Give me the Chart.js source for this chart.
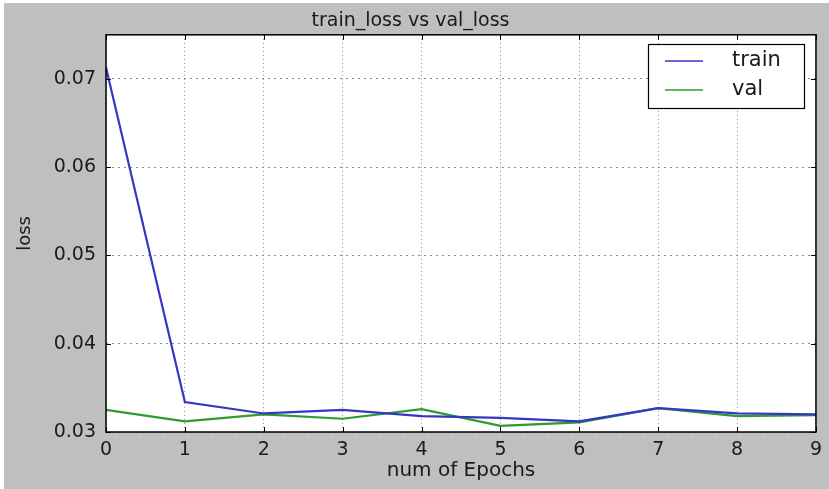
<!DOCTYPE html>
<html>
<head>
<meta charset="utf-8">
<script src="https://cdn.jsdelivr.net/npm/chart.js@4/dist/chart.umd.min.js"></script>
<style>
  html, body { margin: 0; padding: 0; background: #ffffff; }
  #wrap { position: absolute; left: 4px; top: 3px; width: 825px; height: 486px; }
</style>
</head>
<body>
<div id="wrap"><canvas id="c"></canvas></div>
<script>
const epochs = ['0', '1', '2', '3', '4', '5', '6', '7', '8', '9'];
const trainLoss = [0.0713, 0.0334, 0.0321, 0.0325, 0.0318, 0.0316, 0.0312, 0.0327, 0.0321, 0.0320];
const valLoss = [0.0325, 0.0312, 0.0320, 0.0315, 0.0326, 0.0307, 0.0311, 0.0327, 0.0318, 0.0319];
const yTickValues = [0.03, 0.04, 0.05, 0.06, 0.07];
const seriesNames = ['train', 'val'];
const seriesColors = ['#3636c4', '#2f9a2f'];

const FONT = "'DejaVu Sans', sans-serif";
const TEXT = '#1a1a1a';

const framePlugin = {
  id: 'frame',
  beforeDraw(chart) {
    const ctx = chart.ctx, a = chart.chartArea;
    ctx.save();
    ctx.fillStyle = '#bfbfbf';
    ctx.fillRect(0, 0, chart.width, chart.height);
    ctx.fillStyle = '#ffffff';
    ctx.fillRect(a.left, a.top, a.right - a.left, a.bottom - a.top);
    ctx.restore();
  },
  afterDraw(chart) {
    const ctx = chart.ctx, a = chart.chartArea;
    const xs = chart.scales.x, ys = chart.scales.y;
    ctx.save();
    // inward ticks
    ctx.strokeStyle = '#000000';
    ctx.lineWidth = 1;
    ctx.beginPath();
    xs.ticks.forEach((t, i) => {
      const px = Math.round(xs.getPixelForTick(i)) + 0.5;
      ctx.moveTo(px, a.bottom); ctx.lineTo(px, a.bottom - 5);
      ctx.moveTo(px, a.top); ctx.lineTo(px, a.top + 5);
    });
    ys.ticks.forEach(t => {
      const py = Math.round(ys.getPixelForValue(t.value)) + 0.5;
      ctx.moveTo(a.left, py); ctx.lineTo(a.left + 5, py);
      ctx.moveTo(a.right, py); ctx.lineTo(a.right - 5, py);
    });
    ctx.stroke();
    // border
    ctx.lineWidth = 1.5;
    ctx.strokeRect(a.left, a.top, a.right - a.left, a.bottom - a.top);
    // legend
    const lx = 644, ly = 41, lw = 156, lh = 64;
    ctx.fillStyle = '#ffffff';
    ctx.fillRect(lx, ly, lw, lh);
    ctx.lineWidth = 1.2;
    ctx.strokeStyle = '#000000';
    ctx.strokeRect(lx + 0.5, ly + 0.5, lw, lh);
    const rows = [58, 87];
    chart.data.datasets.forEach((ds, i) => {
      ctx.strokeStyle = ds.borderColor;
      ctx.lineWidth = 1.5;
      ctx.beginPath();
      ctx.moveTo(661, rows[i]);
      ctx.lineTo(699, rows[i]);
      ctx.stroke();
      ctx.fillStyle = TEXT;
      ctx.font = "21px " + FONT;
      ctx.textBaseline = 'middle';
      ctx.textAlign = 'left';
      ctx.fillText(ds.label, 728, rows[i]);
    });
    ctx.restore();
  }
};

new Chart(document.getElementById('c'), {
  type: 'line',
  data: {
    labels: epochs,
    datasets: [
      { label: seriesNames[0], data: trainLoss, borderColor: seriesColors[0], backgroundColor: seriesColors[0], borderWidth: 2.2, pointRadius: 0, tension: 0, fill: false },
      { label: seriesNames[1], data: valLoss, borderColor: seriesColors[1], backgroundColor: seriesColors[1], borderWidth: 2.2, pointRadius: 0, tension: 0, fill: false }
    ]
  },
  options: {
    responsive: true,
    maintainAspectRatio: false,
    animation: false,
    layout: { padding: { left: 0, right: 12, top: 0, bottom: 0 } },
    plugins: {
      legend: { display: false },
      tooltip: { enabled: false },
      title: {
        display: true,
        text: 'train_loss vs val_loss',
        color: TEXT,
        font: { family: FONT, size: 19, weight: 'normal' },
        padding: { top: 7, bottom: 2 }
      }
    },
    scales: {
      x: {
        type: 'category',
        offset: false,
        grid: { display: true, color: '#8a8a8a', lineWidth: 1, drawTicks: false, tickLength: 0 },
        border: { display: false, dash: [1, 3] },
        ticks: { color: TEXT, font: { family: FONT, size: 19 }, padding: 7, maxRotation: 0, autoSkip: false },
        title: { display: true, text: 'num of Epochs', color: TEXT, font: { family: FONT, size: 20 }, padding: { top: 0, bottom: 6 } },
        afterFit(scale) { scale.height = 57; }
      },
      y: {
        type: 'linear',
        min: 0.03,
        max: 0.075,
        grid: { display: true, color: '#8a8a8a', lineWidth: 1, drawTicks: false, tickLength: 0 },
        border: { display: false, dash: [2, 4] },
        afterBuildTicks(scale) { scale.ticks = yTickValues.map(v => ({ value: v })); },
        ticks: {
          color: TEXT, font: { family: FONT, size: 19 }, padding: 10,
          callback: v => Number(v).toFixed(2)
        },
        title: { display: true, text: 'loss', color: TEXT, font: { family: FONT, size: 18 }, padding: { top: 11, bottom: 0 } },
        afterFit(scale) { scale.width = 102; }
      }
    }
  },
  plugins: [framePlugin]
});
</script>
</body>
</html>
